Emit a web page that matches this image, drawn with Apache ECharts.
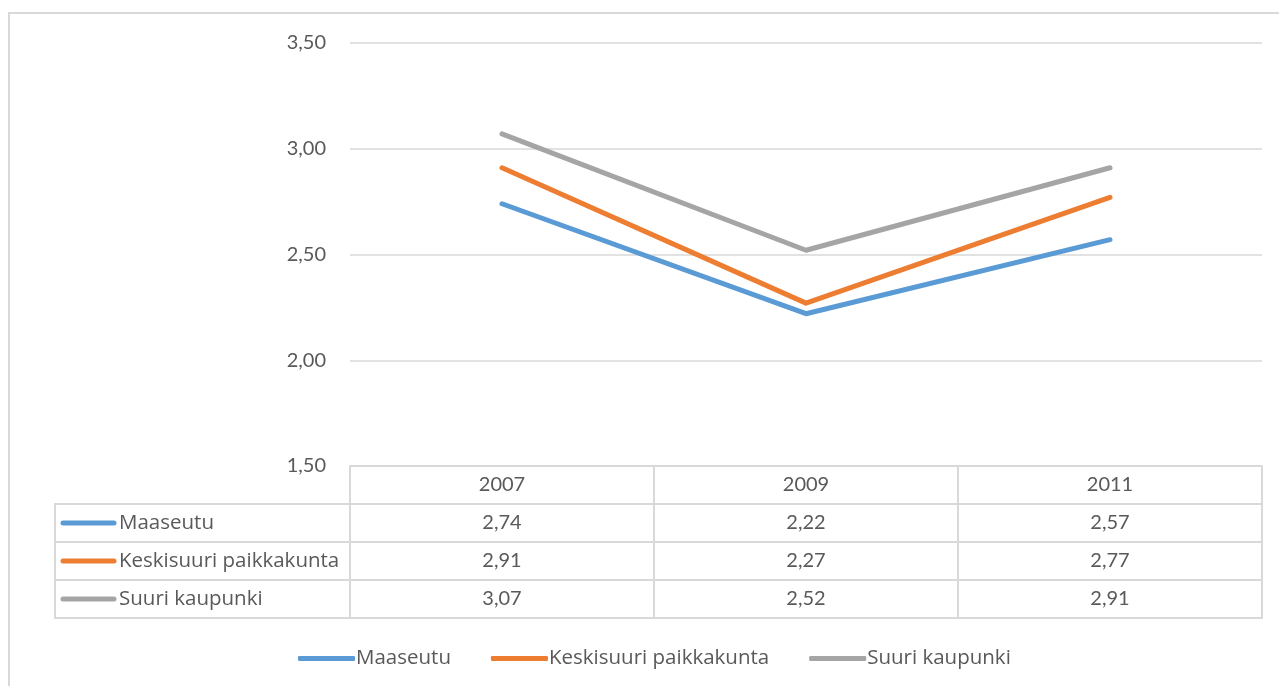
<!DOCTYPE html>
<html>
<head>
<meta charset="utf-8">
<script src="https://cdn.jsdelivr.net/npm/echarts@6/dist/echarts.min.js"></script>
<style>
  html, body { margin: 0; padding: 0; background: #fff; }
  #chart { width: 1279px; height: 686px; }
</style>
</head>
<body>
<div id="chart"></div>
<script>
const years = ["2007", "2009", "2011"];
const seriesNames = ["Maaseutu", "Keskisuuri paikkakunta", "Suuri kaupunki"];
const maaseutu = [2.74, 2.22, 2.57];
const keskisuuri = [2.91, 2.27, 2.77];
const suuri = [3.07, 2.52, 2.91];
const colors = ["#5B9BD5", "#ED7D31", "#A5A5A5"];

const allValues = [maaseutu, keskisuuri, suuri];
const numFont = "Lato, 'Open Sans', sans-serif";
const nameFont = "'Open Sans', Lato, sans-serif";
const nameSize = 20.5;
const textColor = "#595959";
const lineColor = "#D9D9D9";
const fmt = v => v.toFixed(2).replace(".", ",");

// layout
const gridLeft = 350, gridRight = 17, gridTop = 43, plotBottom = 466;
const rowH = 38;
const labelColLeft = 55;

const chart = echarts.init(document.getElementById("chart"));

// table rows: header (years) + one row per series, then closing line
const tableAxes = [];
tableAxes.push({
    type: "category",
    data: years,
    position: "bottom",
    boundaryGap: true,
    axisLine: { lineStyle: { color: lineColor, width: 2 } },
    axisTick: { show: true, interval: 0, length: rowH, lineStyle: { color: lineColor, width: 2 } },
    axisLabel: { interval: 0, margin: 9, fontSize: 20, color: textColor, fontFamily: numFont }
});
allValues.forEach((vals, i) => {
    tableAxes.push({
        type: "category",
        data: vals.map(fmt),
        position: "bottom",
        offset: rowH * (i + 1),
        boundaryGap: true,
        axisLine: { lineStyle: { color: lineColor, width: 2 } },
        axisTick: { show: true, interval: 0, length: rowH, lineStyle: { color: lineColor, width: 2 } },
        axisLabel: { interval: 0, margin: 9, fontSize: 20, color: textColor, fontFamily: numFont }
    });
});
tableAxes.push({
    type: "category",
    data: years.map(() => ""),
    position: "bottom",
    offset: rowH * (allValues.length + 1),
    boundaryGap: true,
    axisLine: { lineStyle: { color: lineColor, width: 2 } },
    axisTick: { show: false },
    axisLabel: { show: false }
});

// left column of table: series key + name
const graphics = [{
    type: "rect",
    shape: { x: 9, y: 13, width: 1300, height: 700 },
    style: { fill: "none", stroke: lineColor, lineWidth: 2 },
    silent: true
}];
seriesNames.forEach((name, i) => {
    const top = plotBottom + rowH * (i + 1);
    graphics.push({
        type: "rect",
        shape: { x: labelColLeft, y: top, width: gridLeft - labelColLeft, height: rowH },
        style: { fill: "none", stroke: lineColor, lineWidth: 2 },
        silent: true
    });
    graphics.push({
        type: "line",
        shape: { x1: 63, y1: top + rowH / 2, x2: 114, y2: top + rowH / 2 },
        style: { stroke: colors[i], lineWidth: 5, lineCap: "round" },
        silent: true
    });
    graphics.push({
        type: "text",
        x: 119,
        y: top + rowH / 2,
        style: { text: name, fill: textColor, fontSize: nameSize, fontFamily: nameFont, verticalAlign: "middle" },
        silent: true
    });
});

chart.setOption({
    backgroundColor: "#fff",
    animation: false,
    color: colors,
    textStyle: { fontFamily: numFont },
    grid: { left: gridLeft, right: gridRight, top: gridTop, bottom: 686 - plotBottom },
    legend: {
        left: 293,
        top: 643,
        icon: "roundRect",
        itemWidth: 57,
        itemHeight: 5,
        itemGap: 40,
        textStyle: { fontSize: nameSize, color: textColor, fontFamily: nameFont, padding: [0, 0, 0, -4] },
        data: seriesNames
    },
    xAxis: tableAxes,
    yAxis: {
        type: "value",
        min: 1.5,
        max: 3.5,
        interval: 0.5,
        axisLine: { show: false },
        axisTick: { show: false },
        splitLine: { lineStyle: { color: lineColor, width: 1.5 } },
        axisLabel: { margin: 24, fontSize: 20, color: textColor, fontFamily: numFont, formatter: fmt }
    },
    series: seriesNames.map((name, i) => ({
        name,
        type: "line",
        data: allValues[i],
        xAxisIndex: 0,
        symbol: "none",
        lineStyle: { width: 5, cap: "round", join: "round" }
    })),
    graphic: graphics
});
</script>
</body>
</html>
